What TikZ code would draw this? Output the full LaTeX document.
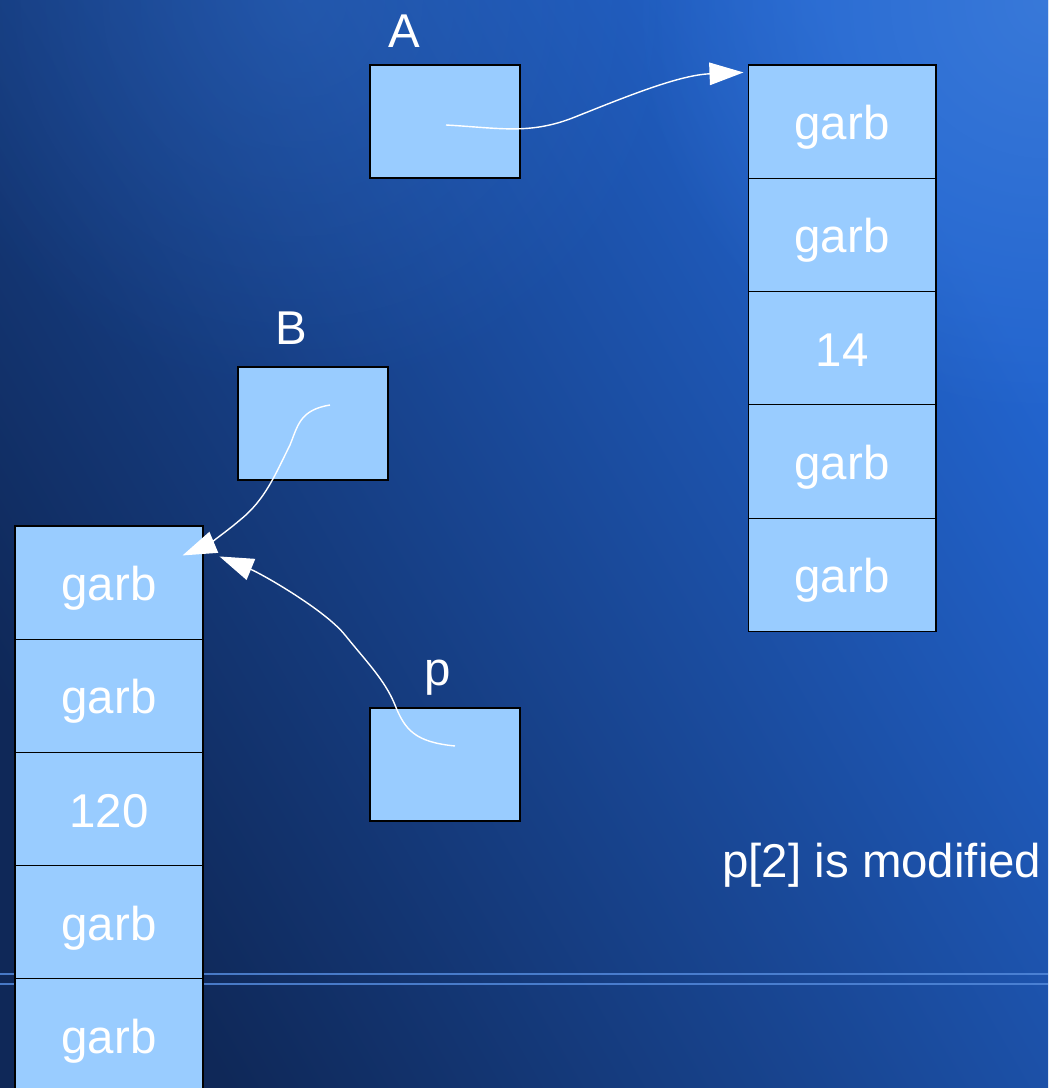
\documentclass[tikz,border=0pt]{standalone}
\usepackage{fontspec}
\setmainfont{Liberation Sans}
\usetikzlibrary{arrows.meta,fadings,calc}

\definecolor{cellblue}{HTML}{99CCFF}
\definecolor{bgdark}{HTML}{0F2858}
\definecolor{bgbright}{HTML}{2264CE}
\definecolor{bgglow}{HTML}{3E7EDC}
\definecolor{rule}{HTML}{5288DA}

\tikzfading[name=glowfade, inner color=transparent!0, outer color=transparent!100]

\tikzset{
  cell/.style={draw=black, line width=0.6pt, fill=cellblue, inner sep=0pt,
    minimum width=3.76cm, minimum height=2.265cm, text=white,
    text height=0.72cm, text depth=0cm,
    font=\fontsize{27}{32}\selectfont},
  ptrbox/.style={draw=black, line width=0.6pt, fill=cellblue, inner sep=0pt,
    minimum width=3cm, minimum height=2.26cm},
  varname/.style={text=white, inner sep=0pt, font=\fontsize{27}{32}\selectfont},
  pointer/.style={white, line width=0.8pt,
    -{Triangle[length=0.68cm, width=0.45cm]}},
}

\begin{document}
\begin{tikzpicture}[x=0.02cm, y=-0.02cm]
\useasboundingbox (0,0) rectangle (1048,1088);
\clip (0,0) rectangle (1048,1088);

% backdrop: diagonal blue gradient with a glow in the upper right
\shade[shading=axis, bottom color=bgdark, top color=bgbright, shading angle=-60]
  (0,0) rectangle (1048,1088);
\fill[bgglow, path fading=glowfade, opacity=0.8] (1048,0) circle (420);
\fill[bgglow, path fading=glowfade, opacity=0.25] (300,0) circle (400);

% two thin rules near the bottom
\draw[rule, line width=1.2pt, opacity=0.85] (0,974) -- (1048,974);
\draw[rule, line width=1.2pt, opacity=0.85] (0,984) -- (1048,984);

% pointer variables
\node[ptrbox] (A) at (445,121.5) {};
\node[varname] (labA) at (404,31) {A};
\node[ptrbox] (B) at (313,423.5) {};
\node[varname] (labB) at (291,328) {B};
\node[ptrbox] (P) at (445,764.5) {};
\node[varname] (labP) at (438,678) {p};

% array reached from A
\node[cell] (r1) at (842,121.6) {garb};
\node[cell] (r2) at (842,234.9) {garb};
\node[cell] (r3) at (842,348.2) {14};
\node[cell] (r4) at (842,461.5) {garb};
\node[cell] (r5) at (842,574.8) {garb};

% array reached from B and p
\node[cell] (l1) at (109,582.6) {garb};
\node[cell] (l2) at (109,695.8) {garb};
\node[cell] (l3) at (109,809.0) {120};
\node[cell] (l4) at (109,922.2) {garb};
\node[cell] (l5) at (109,1035.4) {garb};

\node[varname, anchor=base west] (note) at (722,877) {p[2] is modified};

% pointer arrows
\coordinate (aFrom) at ($(A.center)+(1,3.5)$);
\coordinate (aTo) at ($(r1.north west)+(-4,8)$);
\draw[pointer] (aFrom) .. controls (500,128) and (530,135) .. (575,117)
  .. controls (630,95) and (680,75) .. (aTo);

\coordinate (bFrom) at ($(B.center)+(17,-18.5)$);
\coordinate (bTo) at ($(l1.north east)+(-21,30)$);
\draw[pointer] (bFrom) .. controls (300,410) and (298,425) .. (290,445)
  .. controls (275,475) and (265,500) .. (240,520)
  .. controls (225,533) and (205,546) .. (bTo);

\coordinate (pFrom) at ($(P.center)+(10,-18.5)$);
\coordinate (pTo) at ($(l1.north east)+(16,31)$);
\draw[pointer] (pFrom) .. controls (415,742) and (405,730) .. (395,705)
  .. controls (385,680) and (365,660) .. (345,635)
  .. controls (325,610) and (262,574) .. (pTo);
\end{tikzpicture}
\end{document}
